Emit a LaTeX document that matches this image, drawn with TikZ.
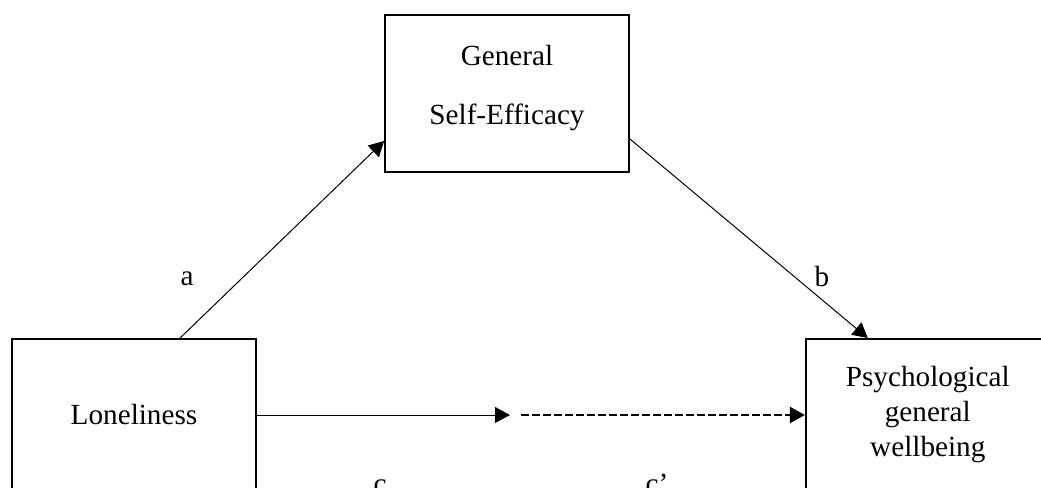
\documentclass[tikz,border=0pt]{standalone}
\usepackage{fontspec}
\setmainfont{Liberation Serif}
\usetikzlibrary{arrows.meta,positioning}
\begin{document}
\begin{tikzpicture}[x=0.5pt,y=-0.5pt,every node/.style={font=\fontsize{14.6}{17.5}\selectfont},
 box/.style={draw,line width=0.9pt,minimum width=122pt,align=center,inner sep=0pt},
 arr/.style={-{Triangle[length=7.5pt,width=8pt]},line width=0.5pt}]
\useasboundingbox (0,0) rectangle (1041,488);
\clip (0,0) rectangle (1041,488);
\node[box,minimum height=78.5pt] (gse) at (507,93.5) {General\\[12pt] Self-Efficacy\\[-8.5pt]\mbox{}};
\node[box,minimum height=76pt] (lone) at (134,415) {Loneliness};
\node[box,minimum height=76pt,right=274pt of lone] (pgw) {Psychological\\ general\\ wellbeing\\[-14pt]\mbox{}};
\coordinate (cmid) at (510,415);
\coordinate (cpmid) at (521,415);
\draw[arr] ([xshift=23pt]lone.north) -- ([yshift=-23.75pt]gse.west);
\draw[arr] ([yshift=-22.75pt]gse.east) -- ([xshift=-30pt]pgw.north);
\draw[arr] (lone.east) -- (cmid);
\draw[arr,line width=1.2pt,dash pattern=on 4pt off 1.5pt] (cpmid) -- (pgw.west);
\node (la) at (187,279) {a};
\node (lb) at (822,277) {b};
\node[anchor=base] (lc) at (380,493) {c};
\node[anchor=base] (lcp) at (657,493) {c’};
\end{tikzpicture}
\end{document}
